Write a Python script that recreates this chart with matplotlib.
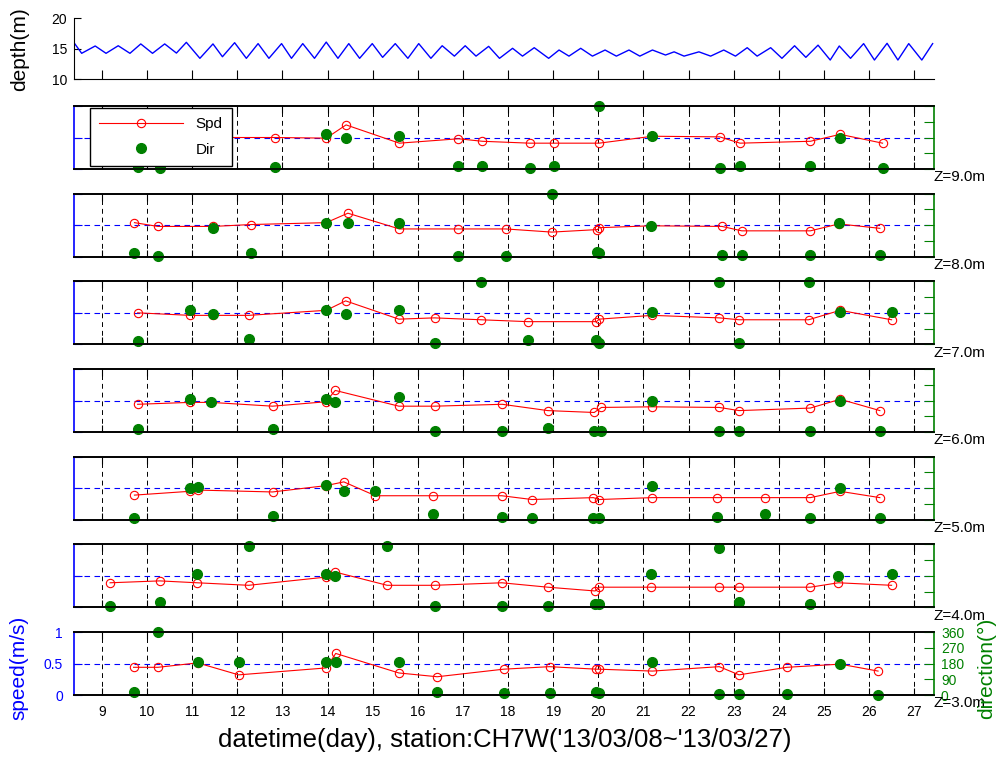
import matplotlib
matplotlib.use("Agg")
import matplotlib.pyplot as plt

plt.rcParams['font.family'] = ['Liberation Sans', 'DejaVu Sans']

# ---- water depth (tidal extrema) ----
DEPTH_T = [8.38, 8.55, 8.85, 9.09, 9.36, 9.62, 9.86, 10.12, 10.39, 10.65,
           10.87, 11.17, 11.46, 11.67, 11.94, 12.20, 12.46, 12.70, 12.98, 13.20,
           13.45, 13.71, 13.97, 14.23, 14.47, 14.71, 14.99, 15.22, 15.50, 15.78,
           16.02, 16.29, 16.54, 16.81, 17.05, 17.29, 17.57, 17.81,
           18.10, 18.32, 18.58, 18.90, 19.13, 19.35, 19.61, 19.87, 20.15, 20.40,
           20.68, 20.92, 21.20, 21.49, 21.68, 21.90, 22.23, 22.49, 22.78, 23.04,
           23.30, 23.52, 23.82, 24.07, 24.35, 24.60, 24.87, 25.14, 25.34, 25.59,
           25.88, 26.12, 26.40, 26.64, 26.88, 27.17, 27.41]
DEPTH = [16.0, 14.26, 15.46, 14.26, 15.5, 14.26, 15.8, 14.26, 15.8, 14.3,
         16.06, 13.44, 15.8, 13.7, 16.0, 13.44, 15.85, 13.44, 15.85, 13.44,
         15.85, 13.44, 16.1, 13.44, 15.85, 13.44, 15.85, 13.6, 15.85, 13.44,
         15.85, 13.44, 15.5, 13.8, 15.5, 13.8, 15.4, 13.44,
         15.08, 13.8, 15.18, 13.44, 14.8, 13.8, 15.08, 13.8, 14.8, 13.8,
         14.8, 13.8, 14.8, 13.98, 14.5, 13.8, 14.5, 13.8, 14.8, 13.8,
         15.18, 13.8, 15.18, 13.44, 15.5, 13.6, 15.6, 13.16, 15.46, 13.44,
         15.85, 13.16, 15.9, 13.16, 15.85, 13.16, 15.85]

# ---- speed (m/s) and direction (deg) per layer ----
T_Z9 = [9.80, 10.28, 11.10, 12.83, 13.97, 14.41, 15.59, 16.90, 17.43, 18.48,
        19.01, 20.02, 21.20, 22.69, 23.14, 24.70, 25.36, 26.30]
SPD_Z9 = [0.47, 0.47, 0.50, 0.50, 0.49, 0.70, 0.41, 0.48, 0.44, 0.41,
          0.41, 0.41, 0.52, 0.51, 0.41, 0.44, 0.55, 0.41]
DIR_Z9 = [13, 7, 185, 10, 202, 177, 190, 19, 19, 7, 19, 360, 190, 7, 19, 19, 175, 7]

T_Z8 = [9.72, 10.24, 11.46, 12.30, 13.97, 14.45, 15.59, 16.90, 17.95, 18.97,
        19.98, 20.02, 21.16, 22.74, 23.18, 24.70, 25.33, 26.24]
SPD_Z8 = [0.54, 0.48, 0.48, 0.51, 0.54, 0.69, 0.44, 0.44, 0.44, 0.39,
          0.43, 0.46, 0.49, 0.48, 0.41, 0.41, 0.52, 0.45]
DIR_Z8 = [21, 6, 166, 21, 190, 190, 190, 6, 6, 358, 24, 20, 177, 10, 10, 10, 190, 10]

T_Z7 = [9.79, 10.95, 11.46, 12.25, 13.97, 14.40, 15.58, 16.37, 17.40, 18.44,
        19.96, 20.02, 21.20, 22.68, 23.12, 24.66, 25.36, 26.50]
SPD_Z7 = [0.50, 0.46, 0.46, 0.46, 0.54, 0.69, 0.40, 0.42, 0.39, 0.36,
          0.36, 0.40, 0.46, 0.42, 0.39, 0.39, 0.54, 0.39]
DIR_Z7 = [18, 195, 171, 30, 195, 171, 195, 8, 356, 22, 22, 8, 185, 358, 8, 358, 185, 185]

T_Z6 = [9.79, 10.94, 11.42, 12.78, 13.96, 14.17, 15.58, 16.37, 17.87, 18.88,
        19.91, 20.07, 21.19, 22.68, 23.12, 24.70, 25.36, 26.24]
SPD_Z6 = [0.44, 0.47, 0.47, 0.41, 0.48, 0.66, 0.41, 0.41, 0.44, 0.34,
          0.31, 0.39, 0.40, 0.39, 0.34, 0.38, 0.52, 0.34]
DIR_Z6 = [19, 187, 174, 19, 187, 174, 199, 7, 7, 21, 7, 7, 176, 7, 7, 7, 176, 7]

T_Z5 = [9.72, 10.94, 11.12, 12.78, 13.96, 14.36, 15.06, 16.34, 17.86, 18.53,
        19.89, 20.02, 21.19, 22.64, 23.70, 24.70, 25.36, 26.24]
SPD_Z5 = [0.39, 0.45, 0.47, 0.44, 0.54, 0.60, 0.38, 0.38, 0.38, 0.32,
          0.35, 0.32, 0.35, 0.35, 0.35, 0.35, 0.45, 0.35]
DIR_Z5 = [7, 179, 189, 19, 200, 166, 166, 33, 17, 7, 7, 7, 190, 17, 33, 7, 179, 7]

T_Z4 = [9.18, 10.28, 11.11, 12.25, 13.96, 14.17, 15.32, 16.37, 17.86, 18.88,
        19.93, 20.02, 21.16, 22.68, 23.12, 24.70, 25.32, 26.50]
SPD_Z4 = [0.39, 0.42, 0.39, 0.35, 0.48, 0.56, 0.35, 0.35, 0.39, 0.32,
          0.26, 0.32, 0.32, 0.32, 0.32, 0.32, 0.39, 0.35]
DIR_Z4 = [10, 29, 190, 352, 190, 180, 352, 10, 10, 10, 19, 19, 192, 341, 31, 19, 180, 192]

T_Z3 = [9.70, 10.24, 11.12, 12.03, 13.97, 14.18, 15.58, 16.43, 17.90, 18.92,
        19.96, 20.01, 21.20, 22.68, 23.12, 24.18, 25.36, 26.20]
SPD_Z3 = [0.44, 0.44, 0.51, 0.32, 0.43, 0.66, 0.35, 0.29, 0.41, 0.45,
          0.41, 0.41, 0.38, 0.45, 0.32, 0.44, 0.49, 0.38]
DIR_Z3 = [19, 358, 187, 187, 187, 187, 187, 19, 10, 10, 19, 10, 190, 6, 6, 6, 177, 0]

LAYERS = ["9.0", "8.0", "7.0", "6.0", "5.0", "4.0", "3.0"]
TIMES = [T_Z9, T_Z8, T_Z7, T_Z6, T_Z5, T_Z4, T_Z3]
SPEEDS = [SPD_Z9, SPD_Z8, SPD_Z7, SPD_Z6, SPD_Z5, SPD_Z4, SPD_Z3]
DIRS = [DIR_Z9, DIR_Z8, DIR_Z7, DIR_Z6, DIR_Z5, DIR_Z4, DIR_Z3]

DAYS = list(range(9, 28))
XLIM = (8.38, 27.44)
GREEN = '#008000'
BLUE = '#0000ff'

W, H = 997, 758
fig = plt.figure(figsize=(W / 100, H / 100), dpi=100)
X0, X1 = 74, 934


def axes_px(top, bottom):
    return fig.add_axes([X0 / W, 1 - bottom / H, (X1 - X0) / W, (bottom - top) / H])


# depth panel
axd = axes_px(18.3, 79.3)
axd.plot(DEPTH_T, DEPTH, color=BLUE, lw=1.0)
axd.set_xlim(XLIM)
axd.set_ylim(10, 20)
axd.set_yticks([10, 15, 20])
axd.set_xticks(DAYS)
axd.set_xticklabels([])
axd.spines['top'].set_visible(False)
axd.spines['right'].set_visible(False)
axd.tick_params(axis='y', direction='in', length=5, labelsize=10, pad=5)
axd.tick_params(axis='x', direction='in', length=6.5)
fig.text(20 / W, 1 - 49 / H, 'depth(m)', rotation=90, ha='center', va='center', fontsize=15)

dash = (0, (5, 4))
for i in range(7):
    top = 106 + i * 87.67
    bottom = top + 63
    last = (i == 6)
    ax = axes_px(top, bottom)
    ax2 = ax.twinx()
    ax.set_xlim(XLIM)
    ax.set_ylim(0, 1)
    ax2.set_ylim(0, 360)
    ax.set_xticks(DAYS)
    ax.set_yticks([0, 0.5, 1])
    ax2.set_yticks([0, 90, 180, 270, 360])
    ax.grid(axis='x', color='k', ls=dash, lw=0.7)
    ax.axhline(0.5, color=BLUE, ls=dash, lw=0.8)

    h_spd, = ax.plot(TIMES[i], SPEEDS[i], color='r', lw=0.8, marker='o',
                     mfc='none', mec='r', ms=6, mew=0.8)
    h_dir, = ax2.plot(TIMES[i], DIRS[i], ls='none', marker='o', color=GREEN,
                      ms=7, clip_on=False)

    ax.tick_params(axis='x', direction='in', top=True, bottom=True, length=5,
                   labelbottom=last, labelsize=10, pad=7)
    ax.tick_params(axis='y', direction='in', colors=BLUE, length=6,
                   labelleft=last, labelsize=10, pad=8)
    ax2.tick_params(axis='y', direction='in', colors=GREEN, length=7,
                    labelright=last, labelsize=10, pad=5)
    if last:
        ax.set_yticklabels(['0', '0.5', '1'])

    ax.spines['left'].set_color(BLUE)
    ax.spines['right'].set_visible(False)
    ax2.spines['left'].set_visible(False)
    ax2.spines['right'].set_color(GREEN)
    for a in (ax, ax2):
        for s in a.spines.values():
            s.set_linewidth(1.2)

    ax2.text(1.0, -0.02, 'Z=' + LAYERS[i] + 'm', transform=ax.transAxes,
             ha='left', va='top', fontsize=11)

    if i == 0:
        leg = ax2.legend([h_spd, h_dir], ['Spd', 'Dir'], loc='upper left',
                         bbox_to_anchor=((90 - X0) / (X1 - X0), (169 - 108) / 63),
                         borderaxespad=0, fancybox=False, edgecolor='k',
                         framealpha=1, fontsize=11, handlelength=5.5,
                         handletextpad=0.8, borderpad=0.6, labelspacing=0.75)
        leg.get_frame().set_linewidth(1.0)

fig.text(19 / W, 1 - 668 / H, 'speed(m/s)', rotation=90, ha='center', va='center',
         fontsize=15, color=BLUE)
fig.text(987 / W, 1 - 668 / H, 'direction(°)', rotation=90, ha='center', va='center',
         fontsize=15, color=GREEN)
fig.text(505 / W, 1 - 740 / H, "datetime(day), station:CH7W('13/03/08~'13/03/27)",
         ha='center', va='center', fontsize=18.5)

fig.savefig('out.png', dpi=100)
